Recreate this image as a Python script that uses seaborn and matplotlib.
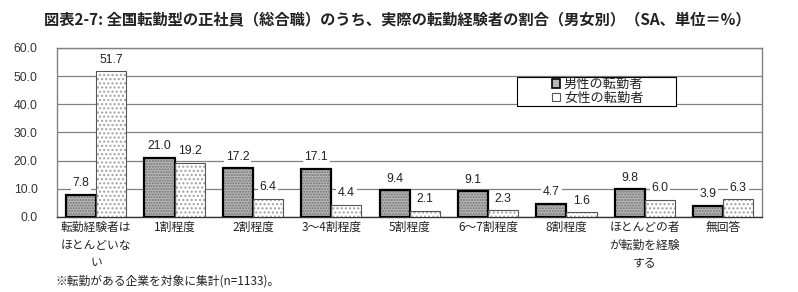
import matplotlib
matplotlib.use("Agg")
import matplotlib.pyplot as plt
import seaborn as sns
import pandas as pd
import numpy as np
from matplotlib.patches import Rectangle

categories = ["転勤経験者は\nほとんどいな\nい", "1割程度", "2割程度", "3～4割程度", "5割程度",
              "6～7割程度", "8割程度", "ほとんどの者\nが転勤を経験\nする", "無回答"]
male = [7.8, 21.0, 17.2, 17.1, 9.4, 9.1, 4.7, 9.8, 3.9]
female = [51.7, 19.2, 6.4, 4.4, 2.1, 2.3, 1.6, 6.0, 6.3]
series = ["男性の転勤者", "女性の転勤者"]
yticks = [0, 10, 20, 30, 40, 50, 60]

sns.set_theme(style="white")
plt.rcParams["font.family"] = ["Noto Sans CJK JP", "DejaVu Sans"]

df = pd.DataFrame({
    "cat": categories * 2,
    "val": male + female,
    "sex": [series[0]] * len(male) + [series[1]] * len(female),
})

fig = plt.figure(figsize=(7.98, 2.92), dpi=100)
ax = fig.add_axes([0.0714, 0.257, 0.884, 0.579])

sns.barplot(data=df, x="cat", y="val", hue="sex", order=categories, hue_order=series,
            palette=["#b0b0b0", "#ffffff"], width=0.77, gap=0, ax=ax, legend=False,
            zorder=3)

styles = {0: dict(face="#b8b8b8", hatch="......", hc="#707070", edge="#000000", lw=1.6),
          1: dict(face="#ffffff", hatch="....", hc="#a0a0a0", edge="#555555", lw=0.8)}
patches = list(ax.patches)
n = len(categories)
for i, p in enumerate(patches[:2 * n]):
    s = styles[i // n]
    p.set_facecolor(s["face"])
    p.set_hatch(s["hatch"])
    p.set_edgecolor(s["hc"])
    p.set_linewidth(0)
    ax.add_patch(Rectangle((p.get_x(), p.get_y()), p.get_width(), p.get_height(),
                           fill=False, edgecolor=s["edge"], linewidth=s["lw"], zorder=4))
    h = p.get_height()
    ax.annotate(f"{h:.1f}", (p.get_x() + p.get_width() / 2, h), xytext=(0, 4),
                textcoords="offset points", ha="center", va="bottom", fontsize=8.8,
                family=["Liberation Sans", "DejaVu Sans"], color="#222222",
                bbox=dict(boxstyle="square,pad=0.15", fc="white", ec="none"), zorder=5)

ax.set_ylim(0, 60)
ax.set_yticks(yticks)
ax.set_yticklabels([f"{v:.1f}" for v in yticks], fontsize=8.8,
                   family=["Liberation Sans", "DejaVu Sans"], color="#333333")
ax.set_xlim(-0.5, n - 0.5)
ax.set_xticks(range(n))
ax.set_xticklabels(categories, fontsize=8.5, linespacing=1.45, color="#222222")
ax.tick_params(axis="x", length=0, pad=3)
ax.tick_params(axis="y", length=0, pad=14)
ax.set_xticks(np.arange(n + 1) - 0.5, minor=True)
ax.tick_params(axis="x", which="minor", direction="in", length=4, color="#333333", width=0.8)
ax.set_xlabel("")
ax.set_ylabel("")
ax.yaxis.grid(True, color="#808080", linewidth=0.9, zorder=0)
ax.set_axisbelow(True)
for side in ["top", "left", "right"]:
    ax.spines[side].set_color("#808080")
    ax.spines[side].set_linewidth(1.0)
ax.spines["bottom"].set_color("#333333")
ax.spines["bottom"].set_linewidth(1.0)

# legend box (wide frame like the original) with frameless legend inside
fig.patches.append(Rectangle((0.648, 0.637), 0.199, 0.0993, transform=fig.transFigure,
                             facecolor="white", edgecolor="black", linewidth=0.8, zorder=6))
handles = [Rectangle((0, 0), 1, 1, facecolor=styles[0]["face"], edgecolor="black", linewidth=1.2),
           Rectangle((0, 0), 1, 1, facecolor="white", edgecolor="#555555", linewidth=0.8)]
leg = fig.legend(handles, series, loc="center", bbox_to_anchor=(0.749, 0.687),
                 fontsize=9.5, frameon=False, handlelength=0.6,
                 handleheight=0.6, handletextpad=0.3, borderpad=0, labelspacing=0.05,
                 borderaxespad=0)
leg.set_zorder(7)
for t in leg.get_texts():
    t.set_color("#222222")

fig.text(0.498, 0.93, "図表2-7: 全国転勤型の正社員（総合職）のうち、実際の転勤経験者の割合（男女別）（SA、単位＝%）",
         ha="center", va="center", fontsize=11, fontweight="bold", color="#222222")
fig.text(0.069, 0.037, "※転勤がある企業を対象に集計(n=1133)。", ha="left", va="center",
         fontsize=8.5, color="#222222")

fig.savefig("out.png", dpi=100)
